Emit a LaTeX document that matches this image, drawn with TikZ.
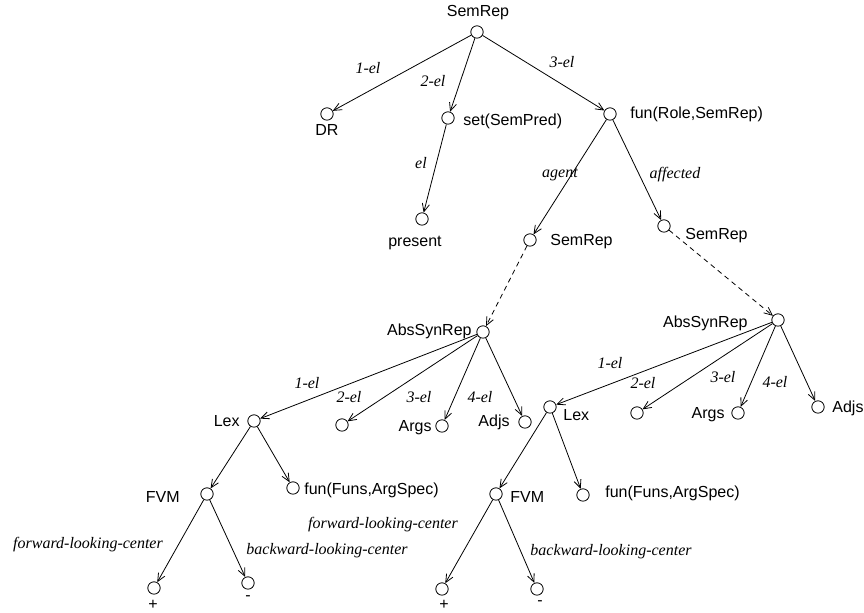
\documentclass[tikz,border=0pt]{standalone}
\usepackage{fontspec}
\setmainfont{Liberation Sans}
\newfontfamily\elfont{Liberation Serif}
\usetikzlibrary{arrows.meta}
\tikzset{
  pt/.style={circle,draw,line width=0.4pt,inner sep=0pt,minimum size=6.2pt},
  tag/.style={inner sep=0pt,font=\fontsize{8}{9.6}\selectfont},
  edgelbl/.style={inner sep=0pt,font=\fontsize{8}{9.6}\selectfont\elfont\itshape},
  branch/.style={-{Straight Barb[length=4pt,width=3.6pt]},line width=0.4pt},
  link/.style={branch,dash pattern=on 2.5pt off 2pt},
}
\begin{document}
\begin{tikzpicture}[x=0.5pt,y=-0.5pt]
  \useasboundingbox (0,0) rectangle (864,613);
  % semantic side
  \node[pt] (root) at (477,32) {};
  \node[pt] (dr) at (327,114) {};
  \node[pt] (set) at (448,118) {};
  \node[pt] (fun) at (610,114) {};
  \node[pt] (pres) at (422,219) {};
  \node[pt] (semA) at (530,240) {};
  \node[pt] (semB) at (664,226) {};
  \node[tag] (t-root) at (478,13) {SemRep};
  \node[tag] (t-dr) at (327,130) {DR};
  \node[tag,anchor=west] (t-set) at (463,121) {set(SemPred)};
  \node[tag,anchor=west] (t-fun) at (630,114) {fun(Role,SemRep)};
  \node[tag] (t-pres) at (415,243) {present};
  \node[tag,anchor=west] (t-semA) at (550,242) {SemRep};
  \node[tag,anchor=west] (t-semB) at (685,236) {SemRep};
  \draw[branch] (root) -- (dr);
  \draw[branch] (root) -- (set);
  \draw[branch] (root) -- (fun);
  \draw[branch] (set) -- (pres);
  \draw[branch] (fun) -- (semA);
  \draw[branch] (fun) -- (semB);
  \node[edgelbl] (l-1) at (368,68) {1-el};
  \node[edgelbl] (l-2) at (433,81) {2-el};
  \node[edgelbl] (l-3) at (562,62) {3-el};
  \node[edgelbl] (l-el) at (421,163) {el};
  \node[edgelbl] (l-ag) at (560,175) {agent};
  \node[edgelbl] (l-af) at (675,175) {affected};
  % left syntax tree
  \node[pt] (absL) at (483,332) {};
  \node[pt] (lexL) at (254,421) {};
  \node[pt] (e2L) at (342,425) {};
  \node[pt] (argsL) at (442,426) {};
  \node[pt] (adjsL) at (525,422) {};
  \node[pt] (fvmL) at (207,494) {};
  \node[pt] (funL) at (293,488) {};
  \node[pt] (plusL) at (154,588) {};
  \node[pt] (minusL) at (248,583) {};
  \node[tag,anchor=east] (t-absL) at (472,331) {AbsSynRep};
  \node[tag,anchor=east] (t-lexL) at (240,421) {Lex};
  \node[tag,anchor=east] (t-argsL) at (432,428) {Args};
  \node[tag,anchor=east] (t-adjsL) at (510,422) {Adjs};
  \node[tag,anchor=east] (t-fvmL) at (180,497) {FVM};
  \node[tag,anchor=west] (t-funL) at (304,490) {fun(Funs,ArgSpec)};
  \node[tag] (t-plusL) at (153,605) {+};
  \node[tag] (t-minusL) at (248,598) {-};
  \draw[link] (semA) -- (absL);
  \draw[branch] (absL) -- (lexL);
  \draw[branch] (absL) -- (e2L);
  \draw[branch] (absL) -- (argsL);
  \draw[branch] (absL) -- (adjsL);
  \draw[branch] (lexL) -- (fvmL);
  \draw[branch] (lexL) -- (funL);
  \draw[branch] (fvmL) -- (plusL);
  \draw[branch] (fvmL) -- (minusL);
  \node[edgelbl] (l-1L) at (307,383) {1-el};
  \node[edgelbl] (l-2L) at (349,397) {2-el};
  \node[edgelbl] (l-3L) at (419,397) {3-el};
  \node[edgelbl] (l-4L) at (480,397) {4-el};
  \node[edgelbl] (l-fwL) at (88,545) {forward-looking-center};
  \node[edgelbl] (l-bwL) at (327,551) {backward-looking-center};
  % right syntax tree
  \node[pt] (absR) at (778,320) {};
  \node[pt] (lexR) at (550,407) {};
  \node[pt] (e2R) at (637,413) {};
  \node[pt] (argsR) at (738,413) {};
  \node[pt] (adjsR) at (818,407) {};
  \node[pt] (fvmR) at (496,494) {};
  \node[pt] (funR) at (583,495) {};
  \node[pt] (plusR) at (442,589) {};
  \node[pt] (minusR) at (537,589) {};
  \node[tag,anchor=east] (t-absR) at (748,323) {AbsSynRep};
  \node[tag,anchor=west] (t-lexR) at (563,415) {Lex};
  \node[tag,anchor=east] (t-argsR) at (725,415) {Args};
  \node[tag,anchor=west] (t-adjsR) at (832,408) {Adjs};
  \node[tag,anchor=west] (t-fvmR) at (510,497) {FVM};
  \node[tag,anchor=west] (t-funR) at (605,493) {fun(Funs,ArgSpec)};
  \node[tag] (t-plusR) at (444,605) {+};
  \node[tag] (t-minusR) at (540,603) {-};
  \draw[link] (semB) -- (absR);
  \draw[branch] (absR) -- (lexR);
  \draw[branch] (absR) -- (e2R);
  \draw[branch] (absR) -- (argsR);
  \draw[branch] (absR) -- (adjsR);
  \draw[branch] (lexR) -- (fvmR);
  \draw[branch] (lexR) -- (funR);
  \draw[branch] (fvmR) -- (plusR);
  \draw[branch] (fvmR) -- (minusR);
  \node[edgelbl] (l-1R) at (610,363) {1-el};
  \node[edgelbl] (l-2R) at (643,383) {2-el};
  \node[edgelbl] (l-3R) at (723,377) {3-el};
  \node[edgelbl] (l-4R) at (775,382) {4-el};
  \node[edgelbl] (l-fwR) at (383,525) {forward-looking-center};
  \node[edgelbl] (l-bwR) at (611,552) {backward-looking-center};
\end{tikzpicture}
\end{document}
